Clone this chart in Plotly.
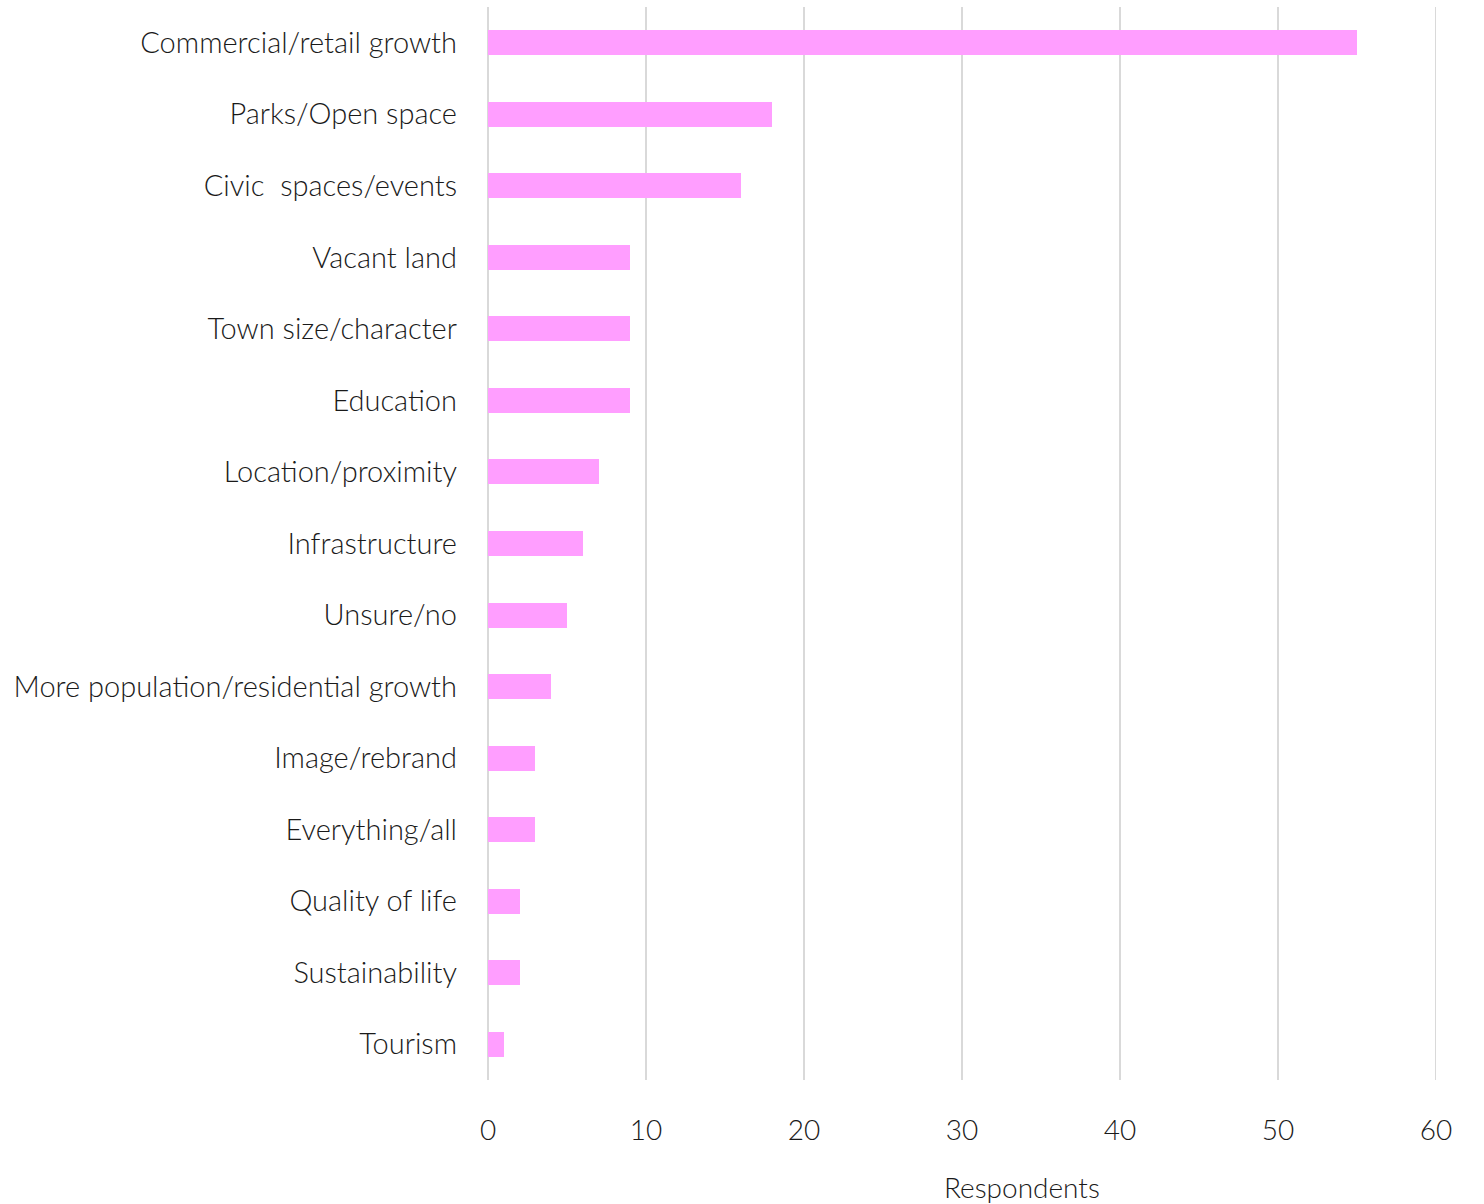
import plotly.graph_objects as go

categories = [
    "Commercial/retail growth",
    "Parks/Open space",
    "Civic  spaces/events",
    "Vacant land",
    "Town size/character",
    "Education",
    "Location/proximity",
    "Infrastructure",
    "Unsure/no",
    "More population/residential growth",
    "Image/rebrand",
    "Everything/all",
    "Quality of life",
    "Sustainability",
    "Tourism",
]
respondents = [55, 18, 16, 9, 9, 9, 7, 6, 5, 4, 3, 3, 2, 2, 1]
x_ticks = [0, 10, 20, 30, 40, 50, 60]

font_family = "Lato"
text_color = "#1a1a1a"
grid_color = "#D9D9D9"

fig = go.Figure(
    go.Bar(
        y=categories,
        x=respondents,
        orientation="h",
        width=0.35,
        marker=dict(color="#FF9EFF", line=dict(width=0)),
        hoverinfo="x+y",
    )
)

fig.update_layout(
    width=1484,
    height=1204,
    margin=dict(l=488, r=48, t=7, b=124),
    plot_bgcolor="white",
    paper_bgcolor="white",
    showlegend=False,
    font=dict(family=font_family, size=28, color=text_color, weight=300),
    bargap=0,
)

fig.update_xaxes(
    range=[0, 60],
    tickvals=x_ticks,
    showgrid=True,
    gridcolor=grid_color,
    gridwidth=2,
    zeroline=True,
    zerolinecolor=grid_color,
    zerolinewidth=2,
    showline=False,
    ticks="",
    ticklabelstandoff=31,
    tickfont=dict(family=font_family, size=28, color=text_color, weight=300),
)

fig.update_yaxes(
    categoryorder="array",
    categoryarray=categories,
    autorange="reversed",
    showgrid=False,
    zeroline=False,
    showline=False,
    ticks="",
    ticklabelstandoff=30,
    tickfont=dict(family=font_family, size=29, color=text_color, weight=300),
)

# gridline at the right edge of the axis range
fig.add_vline(x=x_ticks[-1], line=dict(color=grid_color, width=2), layer="below")

fig.add_annotation(
    text="Respondents",
    xref="paper",
    yref="paper",
    x=(1022 - 488) / (1436 - 488),
    y=0,
    yshift=-107,
    xanchor="center",
    yanchor="middle",
    showarrow=False,
    font=dict(family=font_family, size=28, color=text_color, weight=300),
)

fig.write_html("out.html")
